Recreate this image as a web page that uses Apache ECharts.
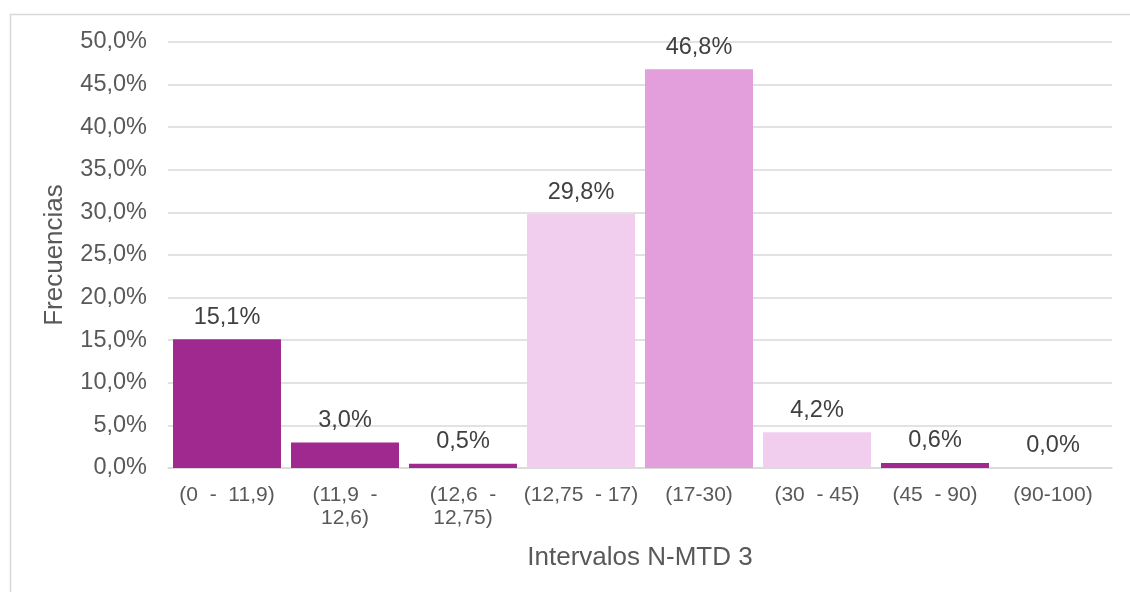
<!DOCTYPE html>
<html>
<head>
<meta charset="utf-8">
<script src="https://cdn.jsdelivr.net/npm/echarts@6/dist/echarts.min.js"></script>
<style>
html,body{margin:0;padding:0;background:#fff;}
#chart{width:1130px;height:592px;}
</style>
</head>
<body>
<div id="chart"></div>
<script>
const categories = ["(0  -  11,9)", "(11,9  -\n12,6)", "(12,6  -\n12,75)", "(12,75  - 17)", "(17-30)", "(30  - 45)", "(45  - 90)", "(90-100)"];
const frecuencias = [15.1, 3.0, 0.5, 29.8, 46.8, 4.2, 0.6, 0.0];
const xTitle = "Intervalos N-MTD 3";
const yTitle = "Frecuencias";

const barColors = ["#A0298F", "#A0298F", "#A0298F", "#F1CEEE", "#E39EDC", "#F1CEEE", "#A0298F", "#A0298F"];
const font = "'Liberation Sans', Arial, sans-serif";
const fmt = v => v.toFixed(1).replace('.', ',') + '%';

const chart = echarts.init(document.getElementById('chart'), null, {renderer: 'canvas'});
chart.setOption({
  animation: false,
  backgroundColor: '#ffffff',
  graphic: [{
    type: 'rect', left: 8, top: 12, silent: true,
    shape: {width: 1300, height: 800},
    style: {fill: 'none', stroke: '#D9D9D9', lineWidth: 1.5}
  }],
  grid: {left: 168, right: 18, top: 42, bottom: 124, containLabel: false},
  xAxis: {
    type: 'category',
    data: categories,
    name: xTitle,
    nameLocation: 'middle',
    nameGap: 77,
    nameTextStyle: {fontFamily: font, fontSize: 26, color: '#595959'},
    axisLine: {lineStyle: {color: '#D9D9D9', width: 1.5}},
    axisTick: {show: false},
    axisLabel: {fontFamily: font, fontSize: 21, color: '#595959', margin: 16, lineHeight: 23, interval: 0}
  },
  yAxis: {
    type: 'value',
    min: 0, max: 50, interval: 5,
    name: yTitle,
    nameLocation: 'middle',
    nameGap: 100,
    nameTextStyle: {fontFamily: font, fontSize: 26, color: '#595959'},
    axisLine: {show: false},
    axisTick: {show: false},
    splitLine: {lineStyle: {color: '#D9D9D9', width: 1.5}},
    axisLabel: {fontFamily: font, fontSize: 23.5, color: '#595959', margin: 21, formatter: v => fmt(v)}
  },
  series: [{
    type: 'bar',
    data: frecuencias.map((v, i) => ({value: v, itemStyle: {color: barColors[i]}})),
    barCategoryGap: '8.5%',
    label: {
      show: true, position: 'top', distance: 10,
      fontFamily: font, fontSize: 23.5, color: '#404040',
      formatter: p => fmt(p.value)
    }
  }]
});
</script>
</body>
</html>
